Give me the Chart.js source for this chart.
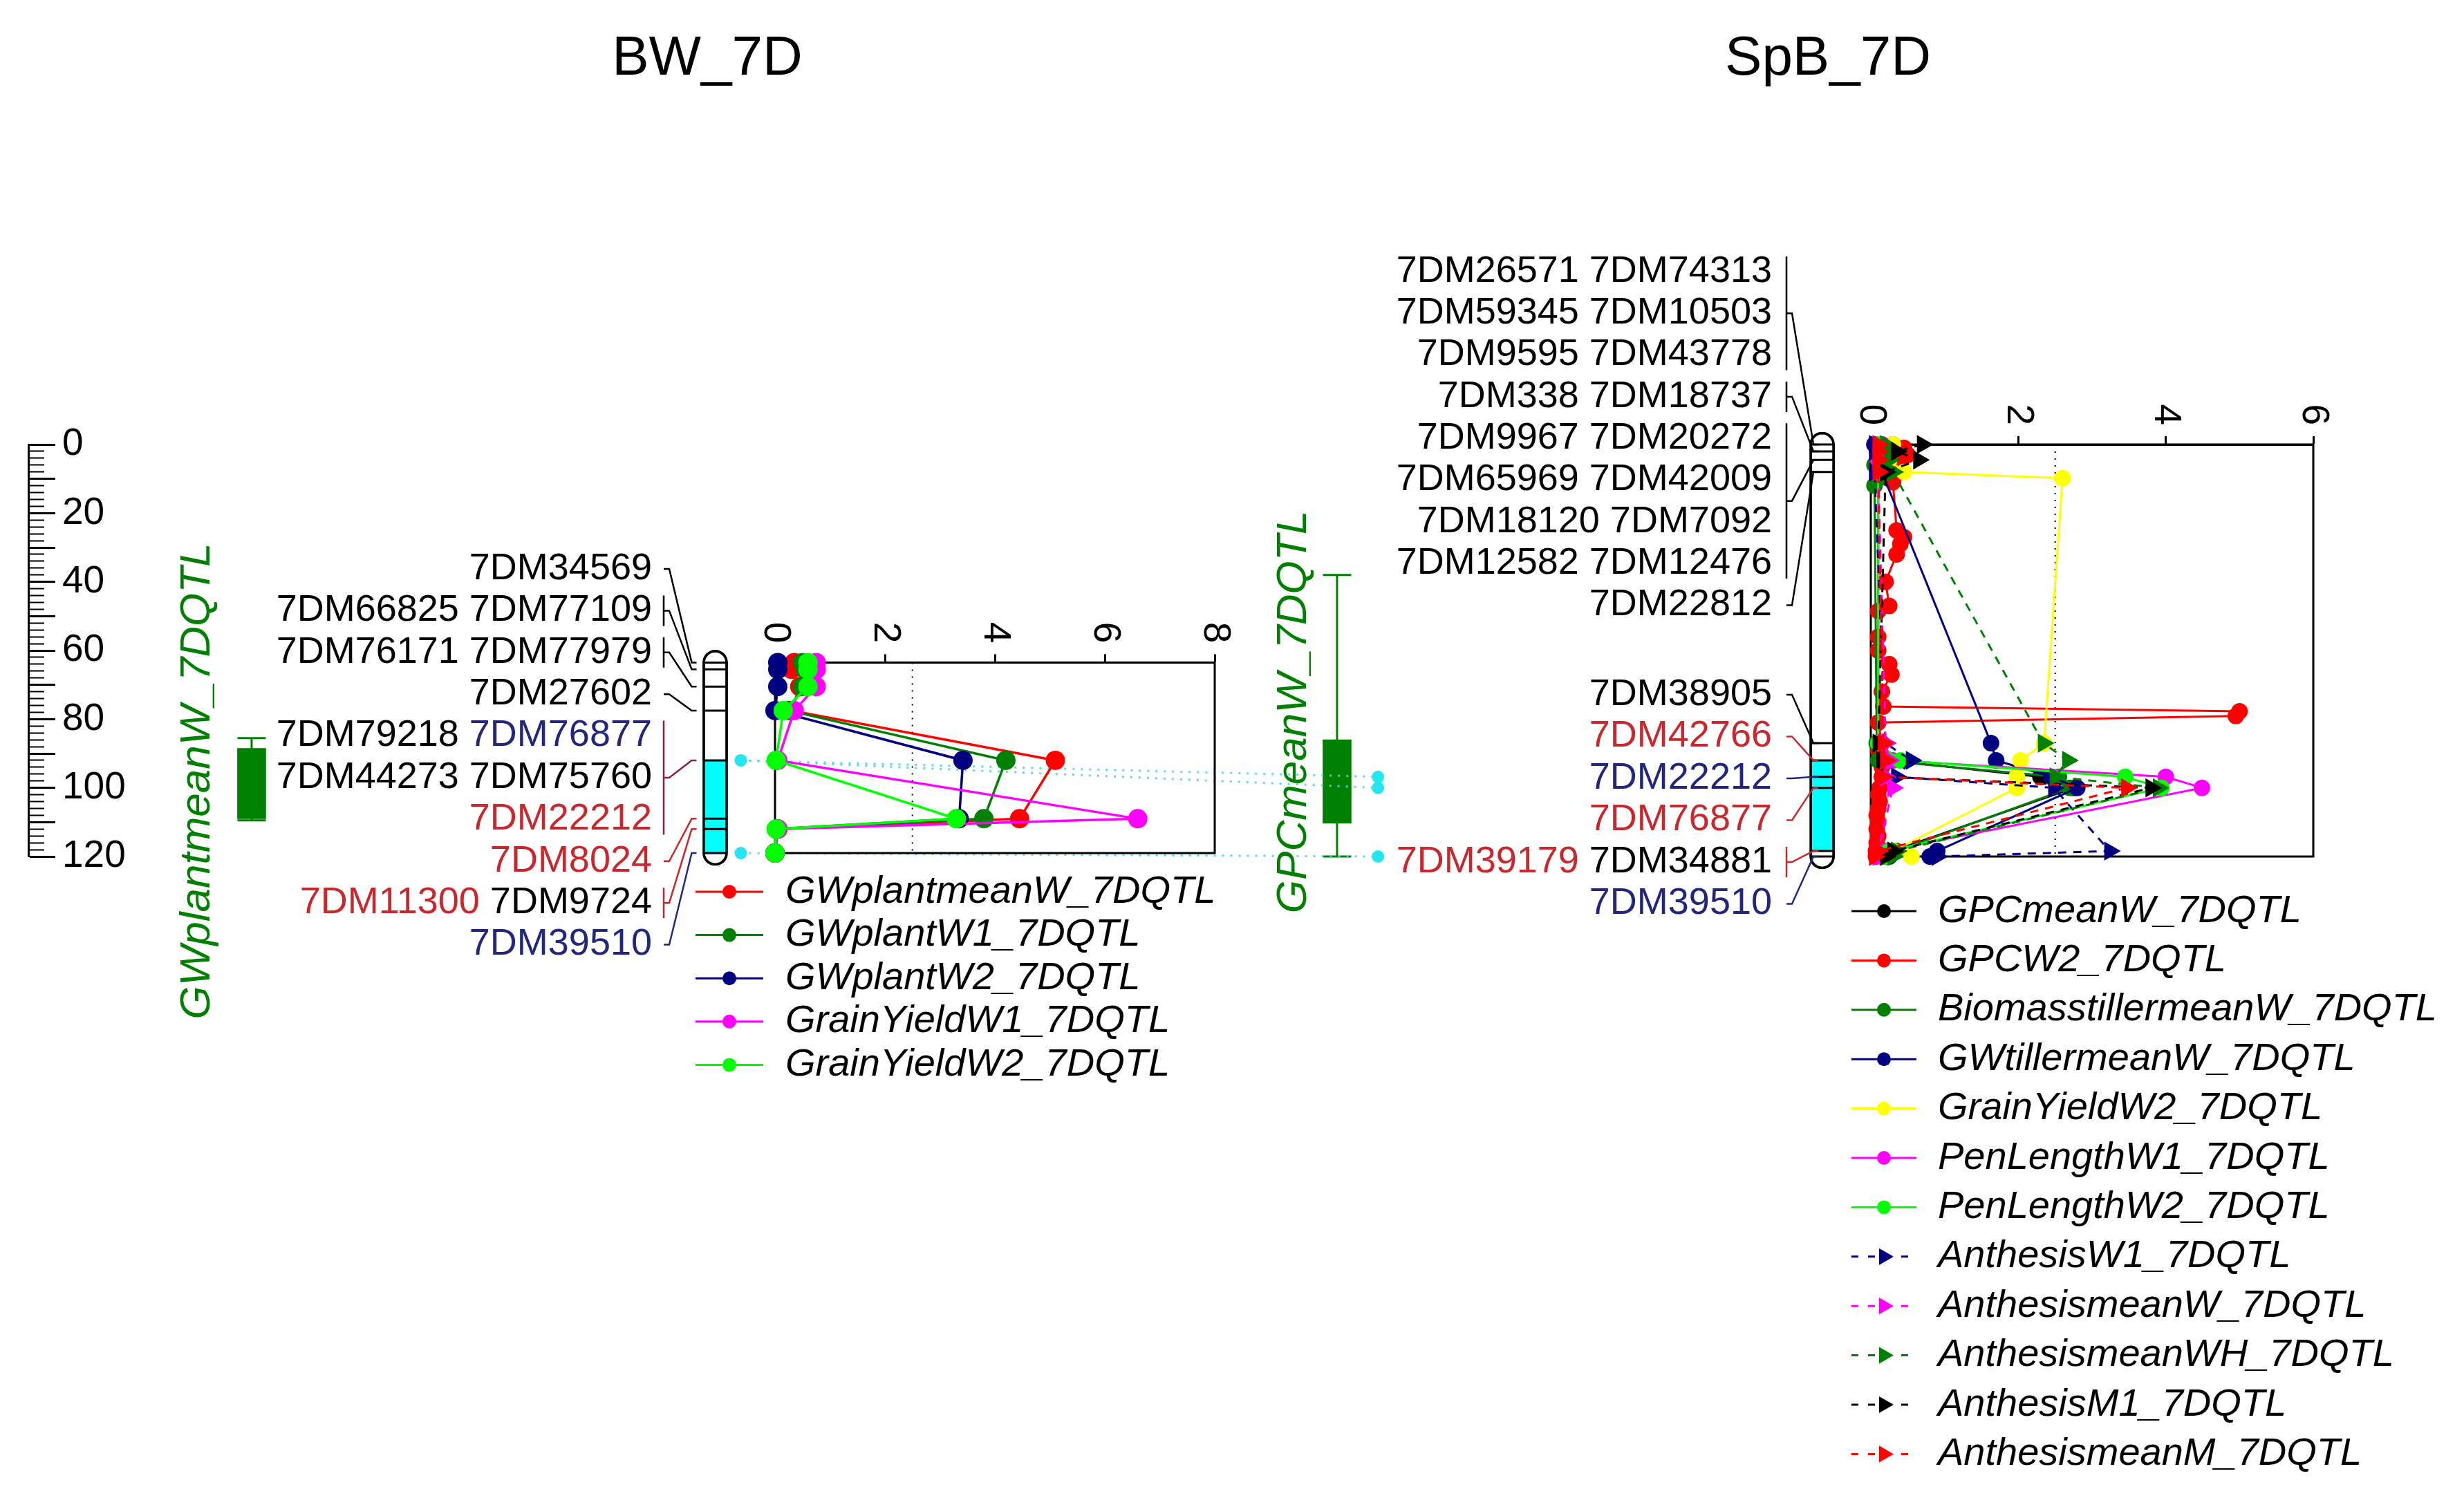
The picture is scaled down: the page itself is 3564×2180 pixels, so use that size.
<!DOCTYPE html>
<html><head><meta charset="utf-8"><title>BW_7D / SpB_7D QTL map</title>
<script src="https://cdn.jsdelivr.net/npm/chart.js"></script>
<style>
html,body{margin:0;padding:0;background:#ffffff;}
#stage{position:relative;width:3564px;height:2180px;background:#ffffff;overflow:hidden;}
#stage canvas{position:absolute;left:0;top:0;}
</style></head>
<body><div id="stage">
<canvas id="cRuler" width="3564" height="2180"></canvas>
<canvas id="cMap" width="3564" height="2180"></canvas>
<canvas id="cLodL" width="3564" height="2180"></canvas>
<canvas id="cLodR" width="3564" height="2180"></canvas>
</div>
<script>
// ================= DATA =================
const cmRange = [0, 120];
const rulerMinorStep = 2;
const rulerTickStep = 10;
const rulerLabelStep = 20;

const mapTitles = ['BW_7D', 'SpB_7D'];

// BW_7D linkage group (positions read on the cM ruler)
const bwMarkerPos = [63.5, 65.5, 70.5, 77.5, 92, 109, 112, 119];
const bwCyanRegion = [92, 119];
const bwLabelRows = [
  [['7DM34569','k']],
  [['7DM66825','k'],['7DM77109','k']],
  [['7DM76171','k'],['7DM77979','k']],
  [['7DM27602','k']],
  [['7DM79218','k'],['7DM76877','n']],
  [['7DM44273','k'],['7DM75760','k']],
  [['7DM22212','r']],
  [['7DM8024','r']],
  [['7DM11300','r'],['7DM9724','k']],
  [['7DM39510','n']]
];
const bwRowMarker = [0,1,2,3,4,4,4,5,6,7];
const bwConnectorColor = ['k','k','k','k','m','r','r','n'];

// SpB_7D linkage group
const spbMarkerPos = [0, 2, 4.5, 8, 87, 92, 96.8, 100, 118.4, 120];
const spbCyanRegion = [92, 118.4];
const spbLabelRows = [
  [['7DM26571','k'],['7DM74313','k']],
  [['7DM59345','k'],['7DM10503','k']],
  [['7DM9595','k'],['7DM43778','k']],
  [['7DM338','k'],['7DM18737','k']],
  [['7DM9967','k'],['7DM20272','k']],
  [['7DM65969','k'],['7DM42009','k']],
  [['7DM18120','k'],['7DM7092','k']],
  [['7DM12582','k'],['7DM12476','k']],
  [['7DM22812','k']],
  [['7DM38905','k']],
  [['7DM42766','r']],
  [['7DM22212','n']],
  [['7DM76877','r']],
  [['7DM39179','r'],['7DM34881','k']],
  [['7DM39510','n']]
];
const spbRowMarker = [0,0,0,1,2,2,2,2,3,4,5,6,7,8,9];
const spbConnectorColor = ['k','k','k','k','k','r','n','r','r','n'];

// QTL intervals (cM)
const qtlNames = ['GWplantmeanW_7DQTL', 'GPCmeanW_7DQTL'];
const qtlWhisker = [[85.5, 109.5], [38, 120]];
const qtlBox = [[88.5, 109], [86, 110.3]];

// markers shared by the two maps
const sharedMarkers = ['7DM22212', '7DM76877', '7DM39510'];
const sharedPosBW = [92, 92, 119];
const sharedPosSpB = [96.8, 100, 120];

// ---- LOD profiles, BW_7D ----
const bwLodPos = [63.5, 65.5, 70.5, 77.5, 92, 109, 112, 119];
const bwTraits = ['GWplantmeanW_7DQTL','GWplantW1_7DQTL','GWplantW2_7DQTL','GrainYieldW1_7DQTL','GrainYieldW2_7DQTL'];
const lodGWplantmeanW = [0.35, 0.3, 0.45, 0.3, 5.1, 4.45, 0.05, 0.0];
const lodGWplantW1   = [0.5, 0.55, 0.5, 0.25, 4.2, 3.8, 0.05, 0.0];
const lodGWplantW2   = [0.05, 0.05, 0.05, 0.0, 3.42, 3.35, 0.03, 0.0];
const lodGrainYieldW1 = [0.75, 0.75, 0.75, 0.35, 0.05, 6.6, 0.05, 0.0];
const lodGrainYieldW2 = [0.6, 0.6, 0.6, 0.15, 0.02, 3.3, 0.02, 0.0];
const bwLodMax = 8;
const bwThreshold = 2.5;

// ---- LOD profiles, SpB_7D ----
const spbLodPos = [0, 2, 4.5, 8, 87, 92, 96.8, 100, 118.4, 120];
const spbTraits = ['GPCmeanW_7DQTL','GPCW2_7DQTL','BiomasstillermeanW_7DQTL','GWtillermeanW_7DQTL','GrainYieldW2_7DQTL','PenLengthW1_7DQTL','PenLengthW2_7DQTL','AnthesisW1_7DQTL','AnthesismeanW_7DQTL','AnthesismeanWH_7DQTL','AnthesisM1_7DQTL','AnthesismeanM_7DQTL'];
const lodGPCmeanW = [0.15, 0.2, 0.1, 0.1, 0.1, 0.25, 2.3, 2.75, 0.3, 0.25];
const gpcW2Pos = [0, 1, 2, 3, 4.5, 6, 8, 11, 25, 27, 29, 32, 40, 47, 48.5, 56, 60, 64, 67, 72, 76.3, 77.7, 79.1, 81, 87, 89, 92, 94, 96.8, 100, 102, 104, 106, 108, 110, 112, 114, 116, 118.4, 120];
const lodGPCW2 = [0.3, 0.45, 0.35, 0.5, 0.4, 0.3, 0.4, 0.3, 0.35, 0.45, 0.4, 0.35, 0.2, 0.25, 0.1, 0.1, 0.1, 0.25, 0.28, 0.15, 0.17, 5.0, 4.95, 0.1, 0.15, 0.1, 0.2, 0.15, 0.15, 0.12, 0.1, 0.12, 0.1, 0.08, 0.1, 0.08, 0.1, 0.08, 0.07, 0.07];
const biomassPos = [0, 1, 2, 3, 4.5, 6, 8, 10, 12, 87, 92, 96.8, 100, 118.4, 120];
const lodBiomasstillermeanW = [0.05, 0.2, 0.1, 0.22, 0.15, 0.05, 0.2, 0.1, 0.05, 0.08, 0.1, 2.55, 2.7, 0.35, 0.2];
const lodGWtillermeanW = [0.05, 0.1, 0.1, 0.15, 1.63, 1.7, 2.45, 2.8, 0.9, 0.8];
const yieldW2Pos = [0, 2, 4.5, 8, 9.8, 87, 92, 96.8, 100, 118.4, 120];
const lodGrainYieldW2spb = [0.3, 0.2, 0.25, 0.45, 2.6, 2.35, 2.03, 1.98, 1.98, 0.3, 0.55];
const lodPenLengthW1 = [0.15, 0.1, 0.1, 0.1, 0.1, 0.3, 4.0, 4.49, 0.2, 0.15];
const lodPenLengthW2 = [0.1, 0.12, 0.15, 0.1, 0.1, 0.4, 3.45, 3.94, 0.25, 0.2];
const lodAnthesisW1 = [0.05, 0.05, 0.1, 0.05, 0.2, 0.55, 0.35, 2.48, 3.24, 0.9];
const lodAnthesismeanW = [0.1, 0.15, 0.1, 0.1, 0.2, 0.25, 0.2, 0.3, 0.1, 0.1];
const lodAnthesismeanWH = [0.2, 0.3, 0.25, 0.3, 2.34, 2.67, 2.5, 3.9, 0.35, 0.3];
const lodAnthesisM1 = [0.7, 0.35, 0.65, 0.2, 0.1, 0.15, 0.15, 3.8, 0.3, 0.2];
const lodAnthesismeanM = [0.1, 0.1, 0.1, 0.1, 0.17, 0.2, 0.15, 3.47, 0.1, 0.05];
const spbLodMax = 6;
const spbThreshold = 2.5;

// ================= STYLE / LAYOUT =================
const FONT = '"Liberation Sans", Arial, Helvetica, sans-serif';
Chart.defaults.font.family = FONT;
const W = 3564, H = 2180;
const TEXT_COL = { k:'#000000', r:'#c8282d', n:'#23277c', m:'#8b2040' };
const COL = { red:'#ff0000', dgreen:'#008000', navy:'#000080', magenta:'#ff00ff', lime:'#00ff00', yellow:'#ffff00', black:'#000000' };
const QTL_GREEN = '#008000';
const LAY = {
  cmTop: 643, cmBottom: 1239,
  rulerX: 41, rulerAxisW: 150, rulerMajorTick: 39, rulerMinorTick: 21,
  chromW: 36, bwX: 1024.5, spbX: 2647,
  bwTextRight: 943, spbTextRight: 2563, bwBracketX: 960, spbBracketX: 2584,
  bwRowY0: 823, rowDY: 60.4, spbRowYA: 393, spbRowYB: 1005, spbSplit: 9,
  qtlX: [345, 1936], qtlW: 41, qtlLabelPos: [[286, 1130], [1872, 1030]],
  linkX: [1062, 1996],
  titlePos: [[1023, 86], [2644, 86]],
  lodAxisH: 12,
  lodL: { left: 1121, right: 1757 }, lodR: { left: 2706, right: 3346 },
  legL: { x1: 1006, x2: 1104, tx: 1136, y0: 1290, dy: 62.6, r: 10 },
  legR: { x1: 2678, x2: 2772, tx: 2803, y0: 1318, dy: 71.4, r: 10 }
};
const pxPerCm = (LAY.cmBottom - LAY.cmTop) / (cmRange[1] - cmRange[0]);
const pxOfCm = v => LAY.cmTop + (v - cmRange[0]) * pxPerCm;

const bwStyles = [
  { c: COL.red, dash: false, shape: 'circle' },
  { c: COL.dgreen, dash: false, shape: 'circle' },
  { c: COL.navy, dash: false, shape: 'circle' },
  { c: COL.magenta, dash: false, shape: 'circle' },
  { c: COL.lime, dash: false, shape: 'circle' }
];
const spbStyles = [
  { c: COL.black, dash: false, shape: 'circle' },
  { c: COL.red, dash: false, shape: 'circle' },
  { c: COL.dgreen, dash: false, shape: 'circle' },
  { c: COL.navy, dash: false, shape: 'circle' },
  { c: COL.yellow, dash: false, shape: 'circle' },
  { c: COL.magenta, dash: false, shape: 'circle' },
  { c: COL.lime, dash: false, shape: 'circle' },
  { c: COL.navy, dash: true, shape: 'triangle' },
  { c: COL.magenta, dash: true, shape: 'triangle' },
  { c: COL.dgreen, dash: true, shape: 'triangle' },
  { c: COL.black, dash: true, shape: 'triangle' },
  { c: COL.red, dash: true, shape: 'triangle' }
];

// ================= RULER (cM axis) =================
new Chart(document.getElementById('cRuler'), {
  type: 'scatter',
  data: { datasets: [] },
  options: {
    responsive: false, animation: false, devicePixelRatio: 1, events: [],
    layout: { padding: { left: 0, right: W - LAY.rulerX - LAY.rulerAxisW, top: LAY.cmTop, bottom: H - LAY.cmBottom } },
    plugins: { legend: { display: false }, tooltip: { enabled: false } },
    scales: {
      x: { type: 'linear', display: false, min: 0, max: 1 },
      y: {
        type: 'linear', position: 'right', reverse: true, min: cmRange[0], max: cmRange[1],
        afterFit: s => { s.width = LAY.rulerAxisW; },
        border: { display: true, color: '#000', width: 3 },
        grid: {
          drawOnChartArea: false, drawTicks: true, tickLength: LAY.rulerMajorTick,
          tickColor: '#000',
          tickWidth: c => (c.tick && c.tick.value % rulerTickStep === 0) ? 3 : 2,
          tickBorderDash: c => (c.tick && c.tick.value % rulerTickStep === 0) ? [] : [LAY.rulerMinorTick, 400]
        },
        ticks: {
          stepSize: rulerMinorStep, autoSkip: false, padding: 10, color: '#000',
          font: { size: 55 },
          callback: v => (v % rulerLabelStep === 0 ? String(v) : '')
        }
      }
    }
  }
});

// ================= MAP (chromosomes, QTL bars, labels) =================
const capCm = (LAY.chromW / 2) / pxPerCm;
const chromExtent = pos => [pos[0] - capCm, pos[pos.length - 1] + capCm];
const chromBars = [{ x: LAY.bwX, y: chromExtent(bwMarkerPos) }, { x: LAY.spbX, y: chromExtent(spbMarkerPos) }];
const mapDatasets = [
  { type: 'bar', data: chromBars, backgroundColor: '#ffffff', borderColor: '#000', borderWidth: 3,
    borderRadius: LAY.chromW / 2, borderSkipped: false, barThickness: LAY.chromW, grouped: false, clip: false, order: 9 },
  { type: 'bar', data: [{ x: LAY.bwX, y: bwCyanRegion }, { x: LAY.spbX, y: spbCyanRegion }], backgroundColor: '#00ffff',
    borderWidth: 0, barThickness: LAY.chromW, grouped: false, clip: false, order: 8 },
  { type: 'scatter', data: bwMarkerPos.map(p => ({ x: LAY.bwX, y: p })).concat(spbMarkerPos.map(p => ({ x: LAY.spbX, y: p }))),
    pointStyle: 'line', pointRadius: LAY.chromW / 2 - 1, pointBorderWidth: 3, pointBorderColor: '#000', pointBackgroundColor: '#000', clip: false, order: 7 },
  { type: 'bar', data: chromBars, backgroundColor: 'rgba(0,0,0,0)', borderColor: '#000', borderWidth: 3,
    borderRadius: LAY.chromW / 2, borderSkipped: false, barThickness: LAY.chromW, grouped: false, clip: false, order: 6 }
];
qtlWhisker.forEach((w, i) => {
  mapDatasets.push({ type: 'line', label: qtlNames[i], data: [{ x: LAY.qtlX[i], y: w[0] }, { x: LAY.qtlX[i], y: w[1] }],
    borderColor: QTL_GREEN, borderWidth: 3, pointRadius: 0, clip: false, order: 5 });
});
mapDatasets.push({ type: 'scatter', data: qtlWhisker.flatMap((w, i) => [{ x: LAY.qtlX[i], y: w[0] }, { x: LAY.qtlX[i], y: w[1] }]),
  pointStyle: 'line', pointRadius: LAY.qtlW / 2, pointBorderWidth: 3, pointBorderColor: QTL_GREEN, pointBackgroundColor: QTL_GREEN, clip: false, order: 4 });
mapDatasets.push({ type: 'bar', data: qtlBox.map((b, i) => ({ x: LAY.qtlX[i], y: b })), backgroundColor: QTL_GREEN,
  borderWidth: 0, barThickness: LAY.qtlW, grouped: false, clip: false, order: 3 });
sharedMarkers.forEach((m, i) => {
  mapDatasets.push({ type: 'line', label: m, data: [{ x: LAY.linkX[0], y: sharedPosBW[i] }, { x: LAY.linkX[1], y: sharedPosSpB[i] }],
    borderColor: 'rgba(60,220,235,0.9)', borderWidth: 3, borderDash: [3, 9], pointRadius: 9,
    pointBackgroundColor: '#22e6f0', pointBorderWidth: 0, clip: false, order: 2 });
});

function drawPanel(chart, rows, rowMarker, markerPos, connColor, rowY, textRight, bracketX, chromLeft) {
  const ctx = chart.ctx, ys = chart.scales.y;
  ctx.save();
  ctx.font = '54px ' + FONT;
  ctx.textBaseline = 'middle'; ctx.textAlign = 'left';
  const space = ctx.measureText(' ').width;
  rows.forEach((segs, i) => {
    const ry = rowY(i);
    const widths = segs.map(s => ctx.measureText(s[0]).width);
    const total = widths.reduce((a, b) => a + b, 0) + space * (segs.length - 1);
    let x = textRight - total;
    segs.forEach((s, j) => { ctx.fillStyle = TEXT_COL[s[1]]; ctx.fillText(s[0], x, ry); x += widths[j] + space; });
  });
  markerPos.forEach((p, m) => {
    const idx = [];
    rowMarker.forEach((r, i) => { if (r === m) idx.push(i); });
    if (!idx.length) return;
    const y0 = rowY(idx[0]), y1 = rowY(idx[idx.length - 1]);
    const multi = idx.length > 1 || rows[idx[0]].length > 1;
    const ay = (y0 + y1) / 2;
    const my = ys.getPixelForValue(p);
    ctx.strokeStyle = TEXT_COL[connColor[m]]; ctx.lineWidth = 2.5;
    ctx.beginPath();
    if (multi) { ctx.moveTo(bracketX, y0 - 22); ctx.lineTo(bracketX, y1 + 22); }
    ctx.moveTo(bracketX, ay); ctx.lineTo(bracketX + 8, ay);
    ctx.lineTo(chromLeft - 6, my); ctx.lineTo(chromLeft + 1, my);
    ctx.stroke();
  });
  ctx.restore();
}

const mapText = {
  id: 'mapText',
  afterDatasetsDraw(chart) {
    const ctx = chart.ctx;
    drawPanel(chart, bwLabelRows, bwRowMarker, bwMarkerPos, bwConnectorColor,
      i => LAY.bwRowY0 + i * LAY.rowDY, LAY.bwTextRight, LAY.bwBracketX, LAY.bwX - LAY.chromW / 2);
    drawPanel(chart, spbLabelRows, spbRowMarker, spbMarkerPos, spbConnectorColor,
      i => (i < LAY.spbSplit ? LAY.spbRowYA + i * 60.3 : LAY.spbRowYB + (i - LAY.spbSplit) * 60.5),
      LAY.spbTextRight, LAY.spbBracketX, LAY.spbX - LAY.chromW / 2);
    ctx.save();
    ctx.fillStyle = '#000'; ctx.font = '80px ' + FONT; ctx.textAlign = 'center'; ctx.textBaseline = 'middle';
    mapTitles.forEach((t, i) => ctx.fillText(t, LAY.titlePos[i][0], LAY.titlePos[i][1]));
    ctx.fillStyle = QTL_GREEN; ctx.font = 'italic 62px ' + FONT;
    qtlNames.forEach((t, i) => {
      ctx.save(); ctx.translate(LAY.qtlLabelPos[i][0], LAY.qtlLabelPos[i][1]); ctx.rotate(-Math.PI / 2);
      ctx.fillText(t, 0, 0); ctx.restore();
    });
    ctx.restore();
  }
};

new Chart(document.getElementById('cMap'), {
  type: 'scatter',
  data: { datasets: mapDatasets },
  options: {
    responsive: false, animation: false, devicePixelRatio: 1, events: [],
    layout: { padding: { left: 0, right: 0, top: LAY.cmTop, bottom: H - LAY.cmBottom } },
    plugins: { legend: { display: false }, tooltip: { enabled: false } },
    scales: {
      x: { type: 'linear', display: false, min: 0, max: W, offset: false },
      y: { type: 'linear', display: false, reverse: true, min: cmRange[0], max: cmRange[1] }
    }
  },
  plugins: [mapText]
});

// ================= LOD PLOTS =================
function lodDataset(name, pos, lod, st, i, r, lw) {
  return {
    label: name, data: pos.map((p, k) => ({ x: lod[k], y: p })), showLine: true,
    borderColor: st.c, backgroundColor: st.c, pointBackgroundColor: st.c, pointBorderColor: st.c,
    borderWidth: lw, borderDash: st.dash ? [12, 10] : [],
    pointStyle: st.shape, pointRotation: st.shape === 'triangle' ? 90 : 0,
    pointRadius: st.shape === 'triangle' ? r + 4 : r, pointBorderWidth: 0,
    clip: false, order: -i, isTrait: true
  };
}
function thresholdDataset(thr, y0, y1) {
  return { label: 'threshold', data: [{ x: thr, y: y0 }, { x: thr, y: y1 }], showLine: true,
    borderColor: '#000', borderWidth: 2, borderDash: [2, 8], pointRadius: 0, clip: false, order: 100 };
}
const lodFrame = {
  id: 'lodFrame',
  beforeDatasetsDraw(chart) {
    const a = chart.chartArea, ctx = chart.ctx;
    ctx.save(); ctx.strokeStyle = '#000'; ctx.lineWidth = 3;
    ctx.strokeRect(a.left, a.top, a.right - a.left, a.bottom - a.top); ctx.restore();
  }
};
const lodTickLabels = {
  id: 'lodTickLabels',
  afterDraw(chart) {
    const s = chart.scales.x, ctx = chart.ctx;
    ctx.save(); ctx.font = '55px ' + FONT; ctx.fillStyle = '#000';
    ctx.textAlign = 'center'; ctx.textBaseline = 'middle';
    s.ticks.forEach(t => {
      const lbl = String(t.value);
      const w = ctx.measureText(lbl).width;
      const x = s.getPixelForValue(t.value);
      const y = chart.chartArea.top - LAY.lodAxisH - 16 - w / 2;
      ctx.save(); ctx.translate(x, y); ctx.rotate(Math.PI / 2); ctx.fillText(lbl, 0, 0); ctx.restore();
    });
    ctx.restore();
  }
};
const lodLegend = {
  id: 'lodLegend',
  afterDraw(chart, args, o) {
    const ctx = chart.ctx;
    ctx.save();
    chart.data.datasets.filter(d => d.isTrait).forEach((d, i) => {
      const y = o.y0 + i * o.dy;
      ctx.strokeStyle = d.borderColor; ctx.lineWidth = 3;
      ctx.setLineDash(d.borderDash.length ? [10, 14] : []);
      ctx.beginPath(); ctx.moveTo(o.x1, y); ctx.lineTo(o.x2, y); ctx.stroke();
      ctx.setLineDash([]);
      const mx = (o.x1 + o.x2) / 2;
      ctx.fillStyle = d.pointBackgroundColor;
      ctx.beginPath();
      if (d.pointStyle === 'triangle') {
        const r = o.r + 4;
        ctx.moveTo(mx + r, y); ctx.lineTo(mx - r / 2, y - 0.866 * r); ctx.lineTo(mx - r / 2, y + 0.866 * r); ctx.closePath();
      } else {
        ctx.arc(mx, y, o.r, 0, Math.PI * 2);
      }
      ctx.fill();
      ctx.fillStyle = '#000'; ctx.font = 'italic 56px ' + FONT;
      ctx.textAlign = 'left'; ctx.textBaseline = 'middle';
      ctx.fillText(d.label, o.tx, y);
    });
    ctx.restore();
  }
};
function makeLodChart(id, datasets, xMax, box, yMin, yMax, leg) {
  return new Chart(document.getElementById(id), {
    type: 'scatter',
    data: { datasets },
    options: {
      responsive: false, animation: false, devicePixelRatio: 1, events: [],
      layout: { padding: { left: box.left, right: W - box.right, top: pxOfCm(yMin) - LAY.lodAxisH, bottom: H - pxOfCm(yMax) } },
      plugins: { legend: { display: false }, tooltip: { enabled: false }, lodLegend: leg },
      scales: {
        x: {
          type: 'linear', position: 'top', min: 0, max: xMax, offset: false,
          ticks: { stepSize: 2, display: false },
          grid: { drawOnChartArea: false, drawTicks: true, tickLength: LAY.lodAxisH, tickWidth: 3,
            tickColor: c => (c.tick && c.tick.value === 0) ? 'rgba(0,0,0,0)' : '#000' },
          border: { display: true, color: '#000', width: 3 },
          afterFit: s => { s.height = LAY.lodAxisH; }
        },
        y: { type: 'linear', display: false, reverse: true, min: yMin, max: yMax }
      }
    },
    plugins: [lodFrame, lodTickLabels, lodLegend]
  });
}

const bwLodSeries = [lodGWplantmeanW, lodGWplantW1, lodGWplantW2, lodGrainYieldW1, lodGrainYieldW2];
const bwDatasets = bwTraits.map((n, i) => lodDataset(n, bwLodPos, bwLodSeries[i], bwStyles[i], i, 14, 3.5));
bwDatasets.push(thresholdDataset(bwThreshold, bwLodPos[0], bwLodPos[bwLodPos.length - 1]));
makeLodChart('cLodL', bwDatasets, bwLodMax, LAY.lodL, bwLodPos[0], bwLodPos[bwLodPos.length - 1], LAY.legL);

const spbLodSeries = [lodGPCmeanW, lodGPCW2, lodBiomasstillermeanW, lodGWtillermeanW, lodGrainYieldW2spb, lodPenLengthW1, lodPenLengthW2,
  lodAnthesisW1, lodAnthesismeanW, lodAnthesismeanWH, lodAnthesisM1, lodAnthesismeanM];
const spbSeriesPos = [spbLodPos, gpcW2Pos, biomassPos, spbLodPos, yieldW2Pos, spbLodPos, spbLodPos, spbLodPos, spbLodPos, spbLodPos, spbLodPos, spbLodPos];
const spbDatasets = spbTraits.map((n, i) => lodDataset(n, spbSeriesPos[i], spbLodSeries[i], spbStyles[i], i, 12, 3));
spbDatasets.push(thresholdDataset(spbThreshold, spbLodPos[0], spbLodPos[spbLodPos.length - 1]));
makeLodChart('cLodR', spbDatasets, spbLodMax, LAY.lodR, spbLodPos[0], spbLodPos[spbLodPos.length - 1], LAY.legR);
</script>
</body></html>
